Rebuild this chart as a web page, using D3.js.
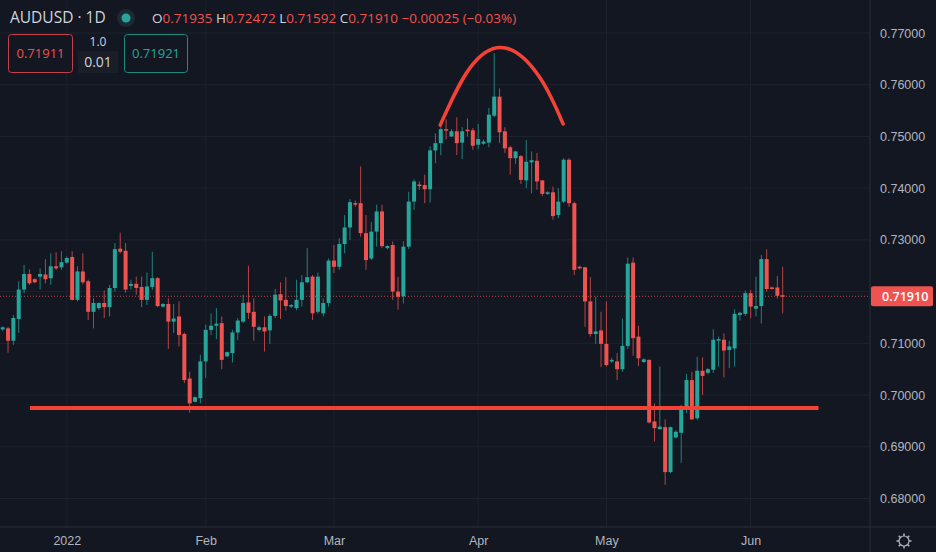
<!DOCTYPE html>
<html><head><meta charset="utf-8">
<script src="https://cdn.jsdelivr.net/npm/d3@7/dist/d3.min.js"></script>
<style>body{margin:0;background:#131722;}svg{display:block;font-family:"Open Sans","Noto Sans",sans-serif;}</style>
</head><body>
<svg id="c" width="936" height="552"></svg>
<script>
// O,H,L,C per daily candle
const candles = [
[.7127,.7133,.7124,.7131],[.7129,.7132,.7082,.7105],[.7105,.7155,.7097,.7149],[.7147,.7220,.7120,.7204],
[.7204,.7252,.7197,.7234],[.7234,.7243,.7213,.7216],[.7224,.7226,.7216,.7218],[.7229,.7245,.7204,.7234],
[.7233,.7263,.7216,.7224],[.7226,.7274,.7213,.7249],[.7249,.7276,.7242,.7245],[.7247,.7278,.7242,.7257],
[.7256,.7268,.7254,.7265],[.7267,.7278,.7183,.7184],[.7184,.7249,.7181,.7239],[.7239,.7274,.7214,.7218],
[.7220,.7223,.7145,.7161],[.7161,.7187,.7129,.7178],[.7168,.7179,.7165,.7178],[.7178,.7202,.7149,.7170],
[.7170,.7213,.7152,.7207],[.7207,.7294,.7200,.7282],[.7283,.7314,.7274,.7277],[.7279,.7294,.7198,.7204],
[.7211,.7223,.7204,.7215],[.7215,.7229,.7194,.7207],[.7209,.7229,.7170,.7184],[.7184,.7237,.7174,.7210],
[.7209,.7277,.7203,.7226],[.7226,.7228,.7170,.7172],[.7171,.7178,.7169,.7176],[.7176,.7187,.7089,.7142],
[.7142,.7176,.7120,.7148],[.7152,.7181,.7094,.7116],[.7118,.7121,.7023,.7029],[.7032,.7045,.6966,.6984],
[.6987,.6997,.6986,.6996],[.6994,.7078,.6984,.7065],[.7065,.7136,.7033,.7126],[.7126,.7158,.7116,.7134],
[.7134,.7168,.7108,.7138],[.7139,.7152,.7050,.7068],[.7075,.7084,.7073,.7083],[.7081,.7126,.7063,.7121],
[.7121,.7149,.7106,.7144],[.7142,.7194,.7139,.7178],[.7179,.7250,.7147,.7159],[.7161,.7187,.7105,.7132],
[.7126,.7134,.7123,.7131],[.7131,.7152,.7084,.7123],[.7125,.7157,.7099,.7153],[.7153,.7205,.7149,.7194],
[.7195,.7218,.7147,.7183],[.7184,.7228,.7163,.7172],[.7171,.7176,.7168,.7174],[.7168,.7223,.7164,.7184],
[.7184,.7232,.7171,.7218],[.7218,.7284,.7216,.7228],[.7229,.7232,.7145,.7158],[.7161,.7237,.7157,.7229],
[.7158,.7187,.7152,.7178],[.7178,.7264,.7171,.7260],[.7260,.7290,.7236,.7248],[.7248,.7303,.7242,.7292],
[.7292,.7348,.7274,.7324],[.7324,.7379,.7300,.7373],[.7371,.7376,.7364,.7368],[.7371,.7442,.7306,.7313],
[.7313,.7348,.7242,.7261],[.7264,.7335,.7261,.7316],[.7316,.7368,.7287,.7355],[.7355,.7368,.7284,.7288],
[.7284,.7290,.7282,.7288],[.7290,.7297,.7184,.7200],[.7200,.7228,.7165,.7190],[.7191,.7297,.7177,.7287],
[.7287,.7393,.7282,.7374],[.7374,.7417,.7358,.7413],[.7407,.7413,.7397,.7404],[.7406,.7426,.7371,.7398],
[.7398,.7481,.7372,.7473],[.7473,.7506,.7448,.7487],[.7487,.7522,.7464,.7514],[.7514,.7533,.7494,.7512],
[.7500,.7514,.7499,.7510],[.7510,.7537,.7464,.7487],[.7488,.7518,.7456,.7510],[.7513,.7535,.7500,.7511],
[.7512,.7516,.7474,.7482],[.7484,.7524,.7475,.7495],[.7486,.7494,.7484,.7490],[.7488,.7555,.7479,.7542],
[.7540,.7661,.7537,.7577],[.7577,.7593,.7487,.7508],[.7510,.7518,.7468,.7477],[.7479,.7482,.7426,.7458],
[.7458,.7472,.7447,.7471],[.7462,.7464,.7408,.7416],[.7415,.7493,.7400,.7451],[.7450,.7471,.7390,.7454],
[.7453,.7468,.7397,.7413],[.7415,.7416,.7385,.7389],[.7389,.7394,.7387,.7392],[.7392,.7403,.7339,.7346],
[.7348,.7400,.7342,.7374],[.7374,.7458,.7371,.7455],[.7455,.7458,.7364,.7371],[.7371,.7374,.7232,.7242],
[.7248,.7250,.7243,.7245],[.7247,.7248,.7132,.7181],[.7181,.7228,.7113,.7118],[.7118,.7190,.7099,.7123],
[.7125,.7161,.7054,.7099],[.7099,.7181,.7055,.7058],[.7065,.7072,.7062,.7068],[.7065,.7081,.7029,.7050],
[.7050,.7148,.7045,.7095],[.7095,.7266,.7089,.7254],[.7256,.7266,.7076,.7110],[.7113,.7134,.7056,.7071],
[.7064,.7071,.7062,.7069],[.7068,.7069,.6945,.6947],[.6949,.6984,.6910,.6936],[.6934,.7055,.6933,.6939],
[.6938,.6953,.6826,.6851],[.6851,.6939,.6849,.6938],[.6918,.6932,.6916,.6929],[.6927,.6981,.6869,.6972],
[.6971,.7041,.6965,.7029],[.7029,.7045,.6952,.6953],[.6955,.7074,.6952,.7047],[.7047,.7073,.7000,.7037],
[.7043,.7052,.7040,.7050],[.7049,.7127,.7043,.7107],[.7107,.7113,.7055,.7108],[.7107,.7119,.7034,.7086],
[.7087,.7105,.7052,.7094],[.7090,.7166,.7055,.7157],[.7155,.7161,.7144,.7159],[.7157,.7202,.7153,.7197],
[.7197,.7203,.7148,.7171],[.7167,.7229,.7152,.7172],[.7172,.7271,.7138,.7263],[.7263,.7282,.7200,.7205],
[.7208,.7210,.7204,.7206],[.7208,.7230,.7187,.7192],[.7193,.7248,.7158,.7191]
];
const priceTicks = [0.68,0.69,0.70,0.71,0.72,0.73,0.74,0.75,0.76,0.77];
const priceLabelTicks = [0.68,0.69,0.70,0.71,0.73,0.74,0.75,0.76,0.77];
const monthIdx = [12,38,62,89,113,140];
const monthLabels = ["2022","Feb","Mar","Apr","May","Jun"];
const lastPrice = 0.71910;
const supportLine = [[5.1,0.6975],[152.7,0.6975]];
const topArc = [[81.9,0.7522],[87.5,0.7633],[94.1,0.7671],[100.6,0.7613],[104.9,0.7524]];

const up="#26a69a", dn="#ef5350", drawCol="#f44336";
const svg=d3.select("#c");
const W=870,H=527;
const x=d3.scaleLinear().domain([0,146]).range([2.7,782.7]);
const y=d3.scaleLinear().domain([0.68,0.77]).range([498.5,33]);

svg.append("g").selectAll("line").data(priceTicks).join("line")
 .attr("x1",0).attr("x2",W).attr("y1",d=>y(d)).attr("y2",d=>y(d)).attr("stroke","#1e222d").attr("stroke-width",1);
svg.append("g").selectAll("line").data(monthIdx).join("line")
 .attr("x1",d=>x(d)).attr("x2",d=>x(d)).attr("y1",0).attr("y2",H).attr("stroke","#1e222d");

svg.append("line").attr("x1",0).attr("x2",W).attr("y1",y(lastPrice)).attr("y2",y(lastPrice))
 .attr("stroke",dn).attr("stroke-dasharray","1,2").attr("opacity",0.8);

const g=svg.append("g");
const cg=g.selectAll("g").data(candles).join("g");
cg.append("line").attr("x1",(d,i)=>x(i)).attr("x2",(d,i)=>x(i))
 .attr("y1",d=>y(d[1])).attr("y2",d=>y(d[2]))
 .attr("stroke",d=>d[3]>=d[0]?up:dn).attr("stroke-width",1).attr("opacity",0.75);
cg.append("rect").attr("x",(d,i)=>x(i)-2).attr("width",4)
 .attr("y",d=>y(Math.max(d[0],d[3])))
 .attr("height",d=>Math.max(1.5,Math.abs(y(d[0])-y(d[3]))))
 .attr("fill",d=>d[3]>=d[0]?up:dn);

const ln=d3.line().x(d=>x(d[0])).y(d=>y(d[1]));
svg.append("path").attr("d",ln(supportLine)).attr("stroke",drawCol).attr("stroke-width",4).attr("fill","none");
svg.append("path").attr("d",ln.curve(d3.curveNatural)(topArc)).attr("stroke",drawCol).attr("stroke-width",3.5).attr("fill","none").attr("stroke-linecap","round");

svg.append("line").attr("x1",W).attr("x2",W).attr("y1",0).attr("y2",552).attr("stroke","#2a2e39");
svg.append("line").attr("x1",0).attr("x2",936).attr("y1",H).attr("y2",H).attr("stroke","#2a2e39");
const ya=svg.append("g").attr("transform",`translate(${W},0)`).call(d3.axisRight(y).tickValues(priceLabelTicks).tickFormat(d3.format(".5f")).tickSize(0).tickPadding(10));
ya.select(".domain").remove();
ya.selectAll("text").attr("fill","#b2b5be").style("font-size","12.5px");
const xa=svg.append("g").attr("transform",`translate(0,${H})`).call(d3.axisBottom(x).tickValues(monthIdx).tickFormat((d,i)=>monthLabels[i]).tickSize(0).tickPadding(9));
xa.select(".domain").remove();
xa.selectAll("text").attr("fill","#b2b5be").style("font-size","12.5px");

svg.append("rect").attr("x",W+1).attr("y",y(lastPrice)-10).attr("width",62).attr("height",20).attr("rx",2).attr("fill",dn);
svg.append("text").attr("x",W+12).attr("y",y(lastPrice)+4.5).text("0.71910").attr("fill","#fff").style("font-size","12.5px").style("font-weight","600");

const gear=svg.append("g").attr("transform","translate(904,541)");
gear.append("circle").attr("r",5).attr("fill","none").attr("stroke","#b2b5be").attr("stroke-width",1.2);
gear.selectAll("line").data(d3.range(8)).join("line").attr("x1",0).attr("y1",5).attr("x2",0).attr("y2",7.5)
 .attr("stroke","#b2b5be").attr("stroke-width",1.5).attr("transform",d=>`rotate(${d*45})`);

const hdr=svg.append("g").style("font-size","14px");
hdr.append("text").attr("x",10).attr("y",23).attr("fill","#d1d4dc").style("font-size","15.5px").text("AUDUSD · 1D");
hdr.append("circle").attr("cx",126).attr("cy",18).attr("r",9).attr("fill","#1e2a33");
hdr.append("circle").attr("cx",126).attr("cy",18).attr("r",4.5).attr("fill",up);
const ohlc=hdr.append("text").attr("x",152).attr("y",23).style("font-size","13.5px");
[["O","0.71935 "],["H","0.72472 "],["L","0.71592 "],["C","0.71910 "],["","−0.00025 (−0.03%)"]].forEach(([k,v])=>{
 ohlc.append("tspan").attr("fill","#d1d4dc").text(k);
 ohlc.append("tspan").attr("fill",dn).text(v);
});
svg.append("rect").attr("x",8.5).attr("y",34.5).attr("width",64).attr("height",38).attr("rx",3).attr("fill","#131722").attr("stroke","#c2414c");
svg.append("text").attr("x",40.5).attr("y",58).attr("text-anchor","middle").attr("fill",dn).style("font-size","13px").text("0.71911");
svg.append("text").attr("x",98).attr("y",46).attr("text-anchor","middle").attr("fill","#d1d4dc").style("font-size","12px").text("1.0");
svg.append("rect").attr("x",78).attr("y",51).attr("width",40).attr("height",22).attr("fill","#1a1e29");
svg.append("text").attr("x",98).attr("y",67).attr("text-anchor","middle").attr("fill","#d1d4dc").style("font-size","14px").text("0.01");
svg.append("rect").attr("x",124.5).attr("y",34.5).attr("width",63).attr("height",38).attr("rx",3).attr("fill","#131722").attr("stroke","#1e8a80");
svg.append("text").attr("x",156).attr("y",58).attr("text-anchor","middle").attr("fill",up).style("font-size","13px").text("0.71921");
</script></body></html>
